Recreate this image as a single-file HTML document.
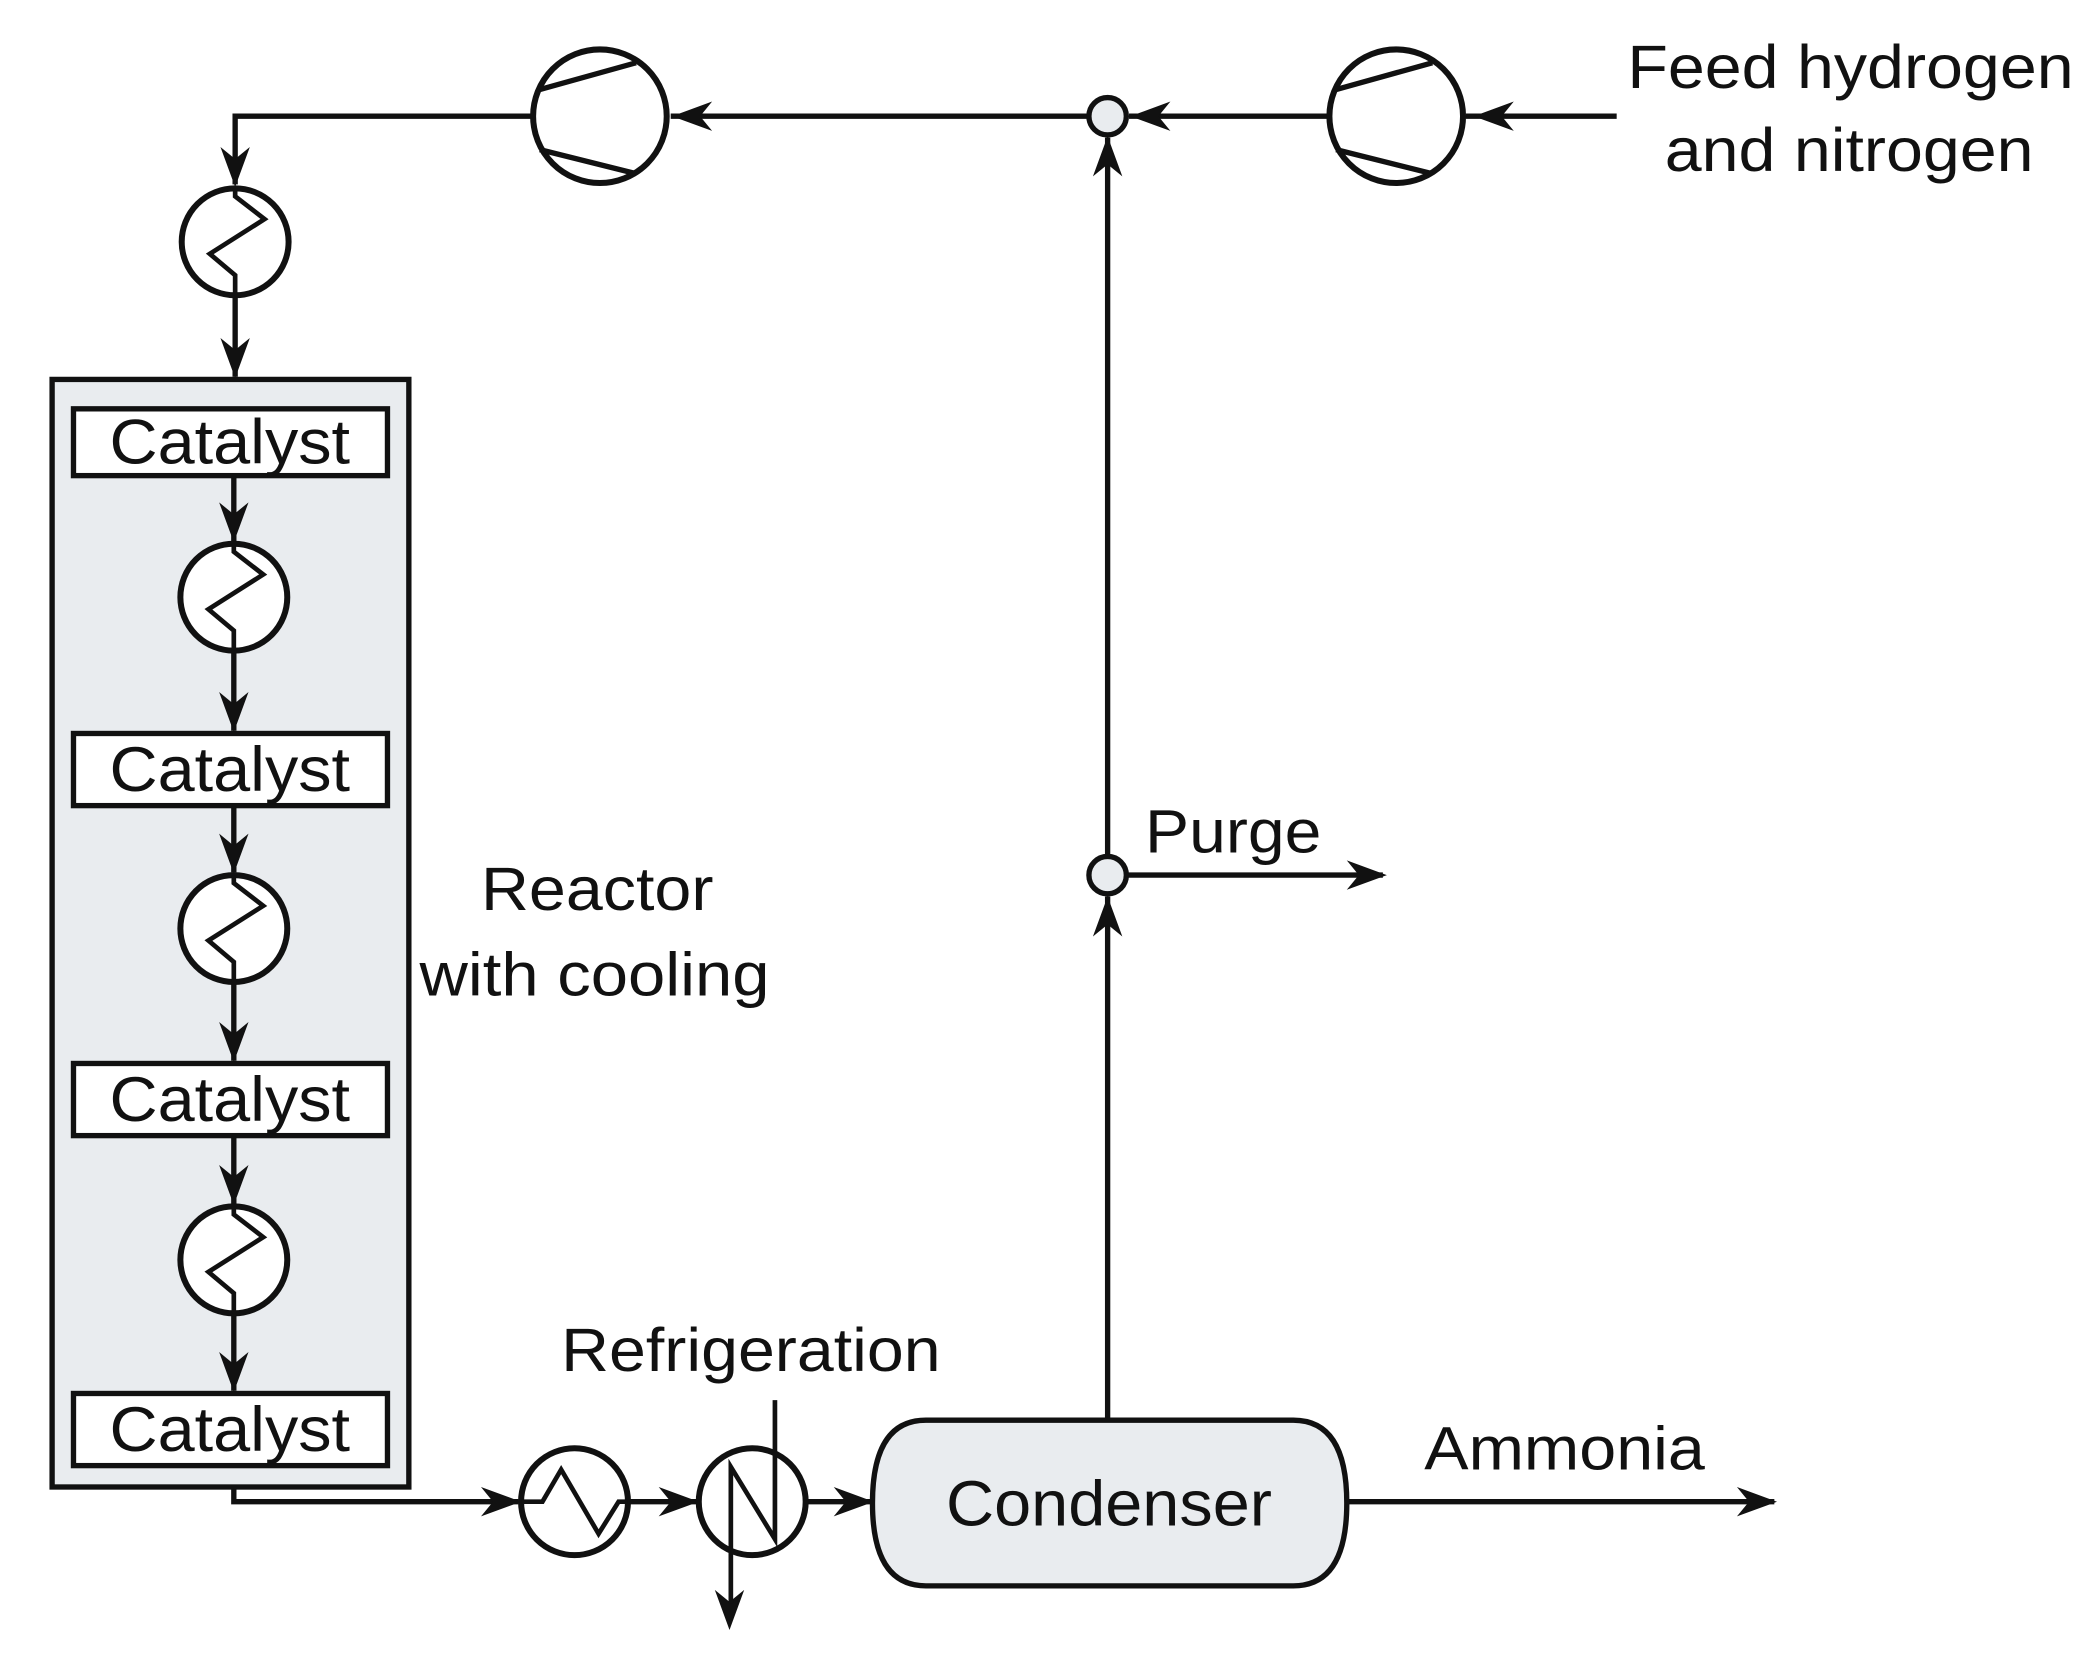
<!DOCTYPE html>
<html><head><meta charset="utf-8"><style>
html,body{margin:0;padding:0;background:#fff}
svg{display:block}
text{font-family:"Liberation Sans",Arial,sans-serif;fill:#111}
</style></head><body>
<svg width="2095" height="1654" viewBox="0 0 1568 1238" preserveAspectRatio="none" xmlns="http://www.w3.org/2000/svg">
<defs>
<path id="ah" d="M0,0 L-30,-11 L-21,0 L-30,11 Z" fill="#111"/>
<g id="hxv">
<circle cx="0" cy="0" r="40" fill="#fff" stroke="#111" stroke-width="4.5"/>
<path d="M0,-40 L0,-34 L22,-17 L-19,9 L0,25 L0,40" fill="none" stroke="#111" stroke-width="3.5"/>
</g>
<g id="comp">
<circle cx="0" cy="0" r="50" fill="#fff" stroke="#111" stroke-width="4.5"/>
<path d="M-45,-20 L27,-40 M-45,25 L27,43" fill="none" stroke="#111" stroke-width="4"/>
</g>
</defs>
<g stroke="#111" stroke-width="4" fill="none">
<line x1="1210" y1="87" x2="1097" y2="87"/>
<line x1="995" y1="87" x2="845" y2="87"/>
<line x1="815" y1="87" x2="502" y2="87"/>
<polyline points="398,87 176,87 176,138"/>
<line x1="176" y1="222" x2="176" y2="282"/>
<line x1="829" y1="1063" x2="829" y2="671"/>
<line x1="829" y1="641" x2="829" y2="103"/>
<line x1="843" y1="655" x2="1035" y2="655"/>
<polyline points="175,1113 175,1124 388,1124"/>
<line x1="470" y1="1124" x2="522" y2="1124"/>
<line x1="603" y1="1124" x2="652" y2="1124"/>
<line x1="1008" y1="1124" x2="1328" y2="1124"/>
</g>
<rect x="39" y="284" width="267" height="829" fill="#e9ecef" stroke="#111" stroke-width="4"/>
<g stroke="#111" stroke-width="4">
<line x1="175" y1="356" x2="175" y2="405"/>
<line x1="175" y1="488" x2="175" y2="547"/>
<line x1="175" y1="603" x2="175" y2="653"/>
<line x1="175" y1="736" x2="175" y2="794"/>
<line x1="175" y1="850" x2="175" y2="901"/>
<line x1="175" y1="984" x2="175" y2="1041"/>
</g>
<g fill="#fff" stroke="#111" stroke-width="4">
<rect x="55" y="306" width="235" height="50"/>
<rect x="55" y="549" width="235" height="54"/>
<rect x="55" y="796" width="235" height="54"/>
<rect x="55" y="1043" width="235" height="54"/>
</g>
<g font-size="47">
<text x="82" y="347" textLength="180" lengthAdjust="spacingAndGlyphs">Catalyst</text>
<text x="82" y="592" textLength="180" lengthAdjust="spacingAndGlyphs">Catalyst</text>
<text x="82" y="839" textLength="180" lengthAdjust="spacingAndGlyphs">Catalyst</text>
<text x="82" y="1086" textLength="180" lengthAdjust="spacingAndGlyphs">Catalyst</text>
</g>
<use href="#hxv" x="176" y="181"/>
<use href="#hxv" x="175" y="447"/>
<use href="#hxv" x="175" y="695"/>
<use href="#hxv" x="175" y="943"/>
<use href="#comp" x="449" y="87"/>
<use href="#comp" x="1045" y="87"/>
<circle cx="829" cy="87" r="14" fill="#e9ecef" stroke="#111" stroke-width="4"/>
<circle cx="829" cy="655" r="14" fill="#e9ecef" stroke="#111" stroke-width="4"/>
<use href="#ah" transform="translate(1103,87) rotate(180)"/>
<use href="#ah" transform="translate(846,87) rotate(180)"/>
<use href="#ah" transform="translate(503,87) rotate(180)"/>
<use href="#ah" transform="translate(176,140) rotate(90)"/>
<use href="#ah" transform="translate(176,283) rotate(90)"/>
<use href="#ah" transform="translate(175,406) rotate(90)"/>
<use href="#ah" transform="translate(175,548) rotate(90)"/>
<use href="#ah" transform="translate(175,654) rotate(90)"/>
<use href="#ah" transform="translate(175,795) rotate(90)"/>
<use href="#ah" transform="translate(175,902) rotate(90)"/>
<use href="#ah" transform="translate(175,1042) rotate(90)"/>
<use href="#ah" transform="translate(829,671) rotate(-90)"/>
<use href="#ah" transform="translate(829,102) rotate(-90)"/>
<use href="#ah" transform="translate(1038,655)"/>
<use href="#ah" transform="translate(390,1124)"/>
<use href="#ah" transform="translate(523,1124)"/>
<use href="#ah" transform="translate(654,1124)"/>
<use href="#ah" transform="translate(1330,1124)"/>
<use href="#ah" transform="translate(546,1220) rotate(90)"/>
<circle cx="430" cy="1124" r="40" fill="#fff" stroke="#111" stroke-width="4.5"/>
<path d="M390,1124 L406,1124 L420,1100 L448,1148 L463,1124 L470,1124" fill="none" stroke="#111" stroke-width="3.5"/>
<circle cx="563" cy="1124" r="40" fill="#fff" stroke="#111" stroke-width="4.5"/>
<path d="M580,1048 L580,1152 L547,1098 L547,1200" fill="none" stroke="#111" stroke-width="3.5"/>
<path d="M693,1063 L968,1063 Q1008,1063 1008,1125 Q1008,1187 968,1187 L693,1187 Q653,1187 653,1125 Q653,1063 693,1063 Z" fill="#e9ecef" stroke="#111" stroke-width="4"/>
<text x="708" y="1142" font-size="48" textLength="244" lengthAdjust="spacingAndGlyphs">Condenser</text>
<text x="1218" y="66" font-size="46" textLength="334" lengthAdjust="spacingAndGlyphs">Feed hydrogen</text>
<text x="1246" y="128" font-size="46" textLength="276" lengthAdjust="spacingAndGlyphs">and nitrogen</text>
<text x="857" y="638" font-size="46" textLength="132" lengthAdjust="spacingAndGlyphs">Purge</text>
<text x="360" y="681" font-size="46" textLength="174" lengthAdjust="spacingAndGlyphs">Reactor</text>
<text x="314" y="745" font-size="46" textLength="262" lengthAdjust="spacingAndGlyphs">with cooling</text>
<text x="420" y="1026" font-size="46" textLength="284" lengthAdjust="spacingAndGlyphs">Refrigeration</text>
<text x="1066" y="1100" font-size="46" textLength="210" lengthAdjust="spacingAndGlyphs">Ammonia</text>
</svg>
</body></html>
